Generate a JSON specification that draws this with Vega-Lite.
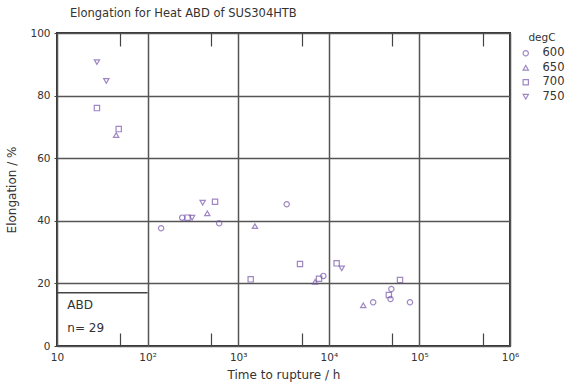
{
  "$schema": "https://vega.github.io/schema/vega-lite/v6.json",
  "autosize": {"type": "none"},
  "width": 453,
  "height": 313,
  "padding": {"left": 57, "top": 33, "right": 56, "bottom": 41},
  "background": "white",
  "config": {
    "font": "DejaVu Sans",
    "view": {"stroke": "#333", "strokeWidth": 2},
    "axis": {"labelFont": "DejaVu Sans", "titleFont": "DejaVu Sans", "labelColor": "#333", "titleColor": "#333", "labelFontSize": 10.5, "titleFontSize": 12, "titleFontWeight": "normal"},
    "legend": {"labelFont": "DejaVu Sans", "titleFont": "DejaVu Sans", "labelColor": "#333", "titleColor": "#333"}
  },
  "title": {"text": "Elongation for Heat ABD of SUS304HTB", "anchor": "start", "frame": "group", "dx": 13, "offset": 9, "fontSize": 11.5, "fontWeight": "normal", "color": "#333", "font": "DejaVu Sans"},
  "datasets": {
    "pts": [
      {"degC": "750", "t": 27.6, "elong": 90.7},
      {"degC": "750", "t": 35, "elong": 84.7},
      {"degC": "750", "t": 405, "elong": 45.8},
      {"degC": "750", "t": 310, "elong": 41},
      {"degC": "750", "t": 13900, "elong": 24.8},
      {"degC": "700", "t": 27.6, "elong": 76},
      {"degC": "700", "t": 48, "elong": 69.3},
      {"degC": "700", "t": 555, "elong": 46.1},
      {"degC": "700", "t": 276, "elong": 41},
      {"degC": "700", "t": 4810, "elong": 26.2},
      {"degC": "700", "t": 1374, "elong": 21.3},
      {"degC": "700", "t": 7800, "elong": 21.5},
      {"degC": "700", "t": 12200, "elong": 26.4},
      {"degC": "700", "t": 61100, "elong": 21.1},
      {"degC": "700", "t": 46000, "elong": 16.3},
      {"degC": "650", "t": 45, "elong": 67.4},
      {"degC": "650", "t": 456, "elong": 42.4},
      {"degC": "650", "t": 1530, "elong": 38.3},
      {"degC": "650", "t": 7050, "elong": 20.5},
      {"degC": "650", "t": 24000, "elong": 13},
      {"degC": "600", "t": 241, "elong": 41},
      {"degC": "600", "t": 141, "elong": 37.6},
      {"degC": "600", "t": 616, "elong": 39.2},
      {"degC": "600", "t": 3430, "elong": 45.3},
      {"degC": "600", "t": 8710, "elong": 22.4},
      {"degC": "600", "t": 49000, "elong": 18.2},
      {"degC": "600", "t": 48000, "elong": 15},
      {"degC": "600", "t": 78700, "elong": 14},
      {"degC": "600", "t": 30900, "elong": 14}
    ],
    "one": [{}]
  },
  "resolve": {"axis": {"x": "independent"}},
  "layer": [
    {
      "data": {"name": "pts"},
      "mark": {"type": "point", "color": "#7755aa", "strokeWidth": 1.2, "size": 28, "filled": false},
      "encoding": {
        "x": {
          "field": "t", "type": "quantitative",
          "scale": {"type": "log", "domain": [10, 1000000], "nice": false},
          "axis": {
            "orient": "bottom",
            "values": [10, 100, 1000, 10000, 100000, 1000000],
            "labelExpr": "datum.value == 10 ? '10' : '10' + ['⁰','¹','²','³','⁴','⁵','⁶'][round(log(datum.value)/LN10)]",
            "title": "Time to rupture / h",
            "titlePadding": 7,
            "labelPadding": 6,
            "labelFlush": false,
            "labelOverlap": false,
            "domain": false,
            "grid": true,
            "gridColor": "#555",
            "gridWidth": 1.5,
            "ticks": false
          }
        },
        "y": {
          "field": "elong", "type": "quantitative",
          "scale": {"domain": [0, 100], "nice": false, "zero": true},
          "axis": {
            "values": [0, 20, 40, 60, 80, 100],
            "title": "Elongation / %",
            "titlePadding": 11,
            "labelPadding": 4,
            "tickSize": 3,
            "tickColor": "#444",
            "domain": false,
            "grid": true,
            "gridColor": "#555",
            "gridWidth": 1.5
          }
        },
        "shape": {
          "field": "degC", "type": "nominal",
          "scale": {"domain": ["600", "650", "700", "750"], "range": ["circle", "triangle-up", "square", "triangle-down"]},
          "legend": {"title": "degC", "orient": "right", "offset": 10, "titleAnchor": "middle", "titleFontSize": 10.5, "titleFontWeight": "normal", "labelFontSize": 11.5, "symbolSize": 28, "labelOffset": 11, "rowPadding": 1.5, "titlePadding": 4, "symbolStrokeWidth": 1.2}
        }
      }
    },
    {
      "data": {"name": "one"},
      "mark": {"type": "rule", "color": "#444", "strokeWidth": 1.5},
      "encoding": {
        "x": {"datum": 10, "type": "quantitative", "axis": null},
        "x2": {"datum": 100},
        "y": {"datum": 17, "type": "quantitative"}
      }
    },
    {
      "data": {"name": "one"},
      "mark": {"type": "text", "text": "ABD", "align": "left", "baseline": "middle", "fontSize": 12, "color": "#333"},
      "encoding": {
        "x": {"datum": 13, "type": "quantitative", "axis": null},
        "y": {"datum": 13, "type": "quantitative"}
      }
    },
    {
      "data": {"name": "one"},
      "mark": {"type": "text", "text": "n=  29", "align": "left", "baseline": "middle", "fontSize": 12, "color": "#333"},
      "encoding": {
        "x": {"datum": 13, "type": "quantitative", "axis": null},
        "y": {"datum": 5.7, "type": "quantitative"}
      }
    },
    {
      "data": {"name": "one"},
      "mark": {"type": "rule", "opacity": 0},
      "encoding": {
        "x": {
          "datum": 50, "type": "quantitative",
          "axis": {"orient": "top", "values": [50, 500, 5000, 50000, 500000], "labels": false, "domain": false, "grid": false, "title": null, "tickSize": -13, "tickColor": "#444", "tickWidth": 1.2}
        }
      }
    },
    {
      "data": {"name": "one"},
      "mark": {"type": "rule", "opacity": 0},
      "encoding": {
        "x": {
          "datum": 50, "type": "quantitative",
          "axis": {"orient": "bottom", "values": [50, 500, 5000, 50000, 500000], "labels": false, "domain": false, "grid": false, "title": null, "tickSize": -13, "tickColor": "#444", "tickWidth": 1.2, "offset": 0}
        }
      }
    }
  ]
}
